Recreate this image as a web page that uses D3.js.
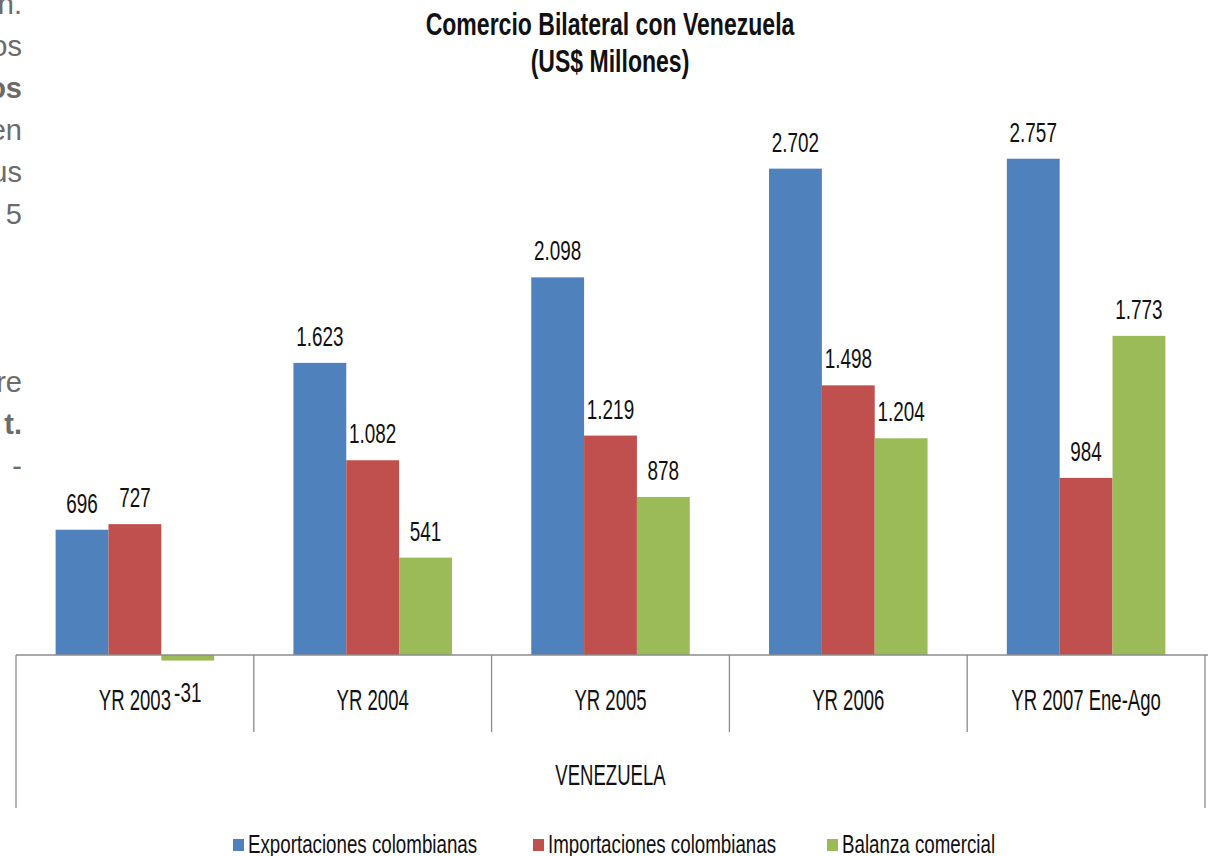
<!DOCTYPE html>
<html>
<head>
<meta charset="utf-8">
<script src="https://cdn.jsdelivr.net/npm/d3@7"></script>
<style>
  body { margin: 0; background: #fff; }
  svg { display: block; }
  .lbl { font-family: "Liberation Sans", Arial, sans-serif; fill: #111; }
</style>
</head>
<body>
<div id="chart"></div>
<script>
// data
const categories = ['YR 2003', 'YR 2004', 'YR 2005', 'YR 2006', 'YR 2007 Ene-Ago']
const seriesNames = ['Exportaciones colombianas', 'Importaciones colombianas', 'Balanza comercial']
const exportaciones = [696, 1623, 2098, 2702, 2757]
const importaciones = [727, 1082, 1219, 1498, 984]
const balanza = [-31, 541, 878, 1204, 1773]
const colors = ['#4F81BD', '#C0504D', '#9BBB59']
// leftover text from the slide, cut off at the left edge
const sideText = [['n.', 0], ['os', 0], ['os', 1], ['en', 0], ['us', 0], ['5', 0], ['', 0], ['', 0], ['', 0], ['re', 0], ['t.', 1], ['-', 0]]

const width = 1208
const height = 856
const locale = d3.formatLocale({ decimal: ',', thousands: '.', grouping: [3], currency: ['$', ''], minus: '-' })
const fmt = locale.format(',')

const svg = d3.select('#chart')
  .append('svg')
  .attr('width', width)
  .attr('height', height)

// the chart text is a tall, narrow face: squeeze it sideways
function narrowText(sel, size, squeeze) {
  return sel
    .attr('class', 'lbl')
    .style('font-size', size + 'px')
    .attr('transform', function() {
      let x = +this.getAttribute('data-x')
      let y = +this.getAttribute('data-y')
      return `translate(${x},${y}) scale(${squeeze},1)`
    })
}

// side text fragments
svg.append('g')
  .selectAll('text')
  .data(sideText)
  .enter().append('text')
  .attr('x', 22)
  .attr('y', (d, i) => 14 + i * 42)
  .attr('text-anchor', 'end')
  .style('font-family', 'Arial, "Liberation Sans", sans-serif')
  .style('font-size', '29px')
  .style('font-weight', d => d[1] ? 'bold' : 'normal')
  .style('fill', '#6b6b6b')
  .text(d => d[0])

// title
svg.selectAll('.title')
  .data(['Comercio Bilateral con Venezuela', '(US$ Millones)'])
  .enter().append('text')
  .attr('data-x', 610)
  .attr('data-y', (d, i) => 35 + i * 37)
  .attr('text-anchor', 'middle')
  .style('font-weight', 'bold')
  .text(d => d)
  .call(narrowText, 32, 0.72)

const x0 = d3.scaleBand()
  .domain(categories)
  .range([16, 1205])
  .paddingInner(0)
  .paddingOuter(0)

// gap width 150%: three bars take 3/4.5 of each band
const bw = x0.bandwidth() / 4.5
const x1 = d3.scaleBand()
  .domain(seriesNames)
  .range([0.75 * bw, 3.75 * bw])

const y = d3.scaleLinear()
  .domain([0, 3000])
  .range([655, 115])

const rows = categories.map((c, i) => ({
  cat: c,
  values: [exportaciones[i], importaciones[i], balanza[i]]
}))

const groups = svg.append('g')
  .selectAll('g')
  .data(rows)
  .enter().append('g')
  .attr('transform', d => `translate(${x0(d.cat)},0)`)

const bars = groups.selectAll('g')
  .data(d => d.values.map((v, j) => ({ name: seriesNames[j], v: v, j: j })))
  .enter().append('g')

bars.append('rect')
  .attr('x', d => x1(d.name))
  .attr('width', x1.bandwidth())
  .attr('y', d => y(Math.max(0, d.v)))
  .attr('height', d => Math.abs(y(d.v) - y(0)))
  .style('fill', d => colors[d.j])

bars.append('text')
  .attr('data-x', d => x1(d.name) + x1.bandwidth() / 2)
  .attr('data-y', d => d.v < 0 ? y(d.v) + 41 : y(d.v) - 17)
  .attr('text-anchor', 'middle')
  .text(d => fmt(d.v))
  .call(narrowText, 27, 0.7)

// axis lines
const axis = svg.append('g')
  .style('stroke', '#8c8c8c')
  .style('stroke-width', 1.3)
  .style('fill', 'none')

axis.append('line')
  .attr('x1', 16).attr('x2', width)
  .attr('y1', y(0)).attr('y2', y(0))

axis.selectAll('.sep')
  .data(categories.slice(1))
  .enter().append('line')
  .attr('x1', d => x0(d)).attr('x2', d => x0(d))
  .attr('y1', y(0)).attr('y2', 732)

axis.selectAll('.edge')
  .data([16, 1205])
  .enter().append('line')
  .attr('x1', d => d).attr('x2', d => d)
  .attr('y1', y(0)).attr('y2', 808)

// category labels
svg.append('g')
  .selectAll('text')
  .data(categories)
  .enter().append('text')
  .attr('data-x', d => x0(d) + x0.bandwidth() / 2)
  .attr('data-y', 710)
  .attr('text-anchor', 'middle')
  .text(d => d)
  .call(narrowText, 29, 0.64)

svg.append('text')
  .attr('data-x', x0.range()[0] + (x0.range()[1] - x0.range()[0]) / 2)
  .attr('data-y', 785)
  .attr('text-anchor', 'middle')
  .text('VENEZUELA')
  .call(narrowText, 29, 0.64)

// legend
const legendX = [233, 533, 827]
const legend = svg.append('g')
  .selectAll('g')
  .data(seriesNames)
  .enter().append('g')
  .attr('transform', (d, i) => `translate(${legendX[i]},839)`)

legend.append('rect')
  .attr('width', 11).attr('height', 12)
  .style('fill', (d, i) => colors[i])

legend.append('text')
  .attr('data-x', 15)
  .attr('data-y', 14)
  .text(d => d)
  .call(narrowText, 25, 0.75)
</script>
</body>
</html>
